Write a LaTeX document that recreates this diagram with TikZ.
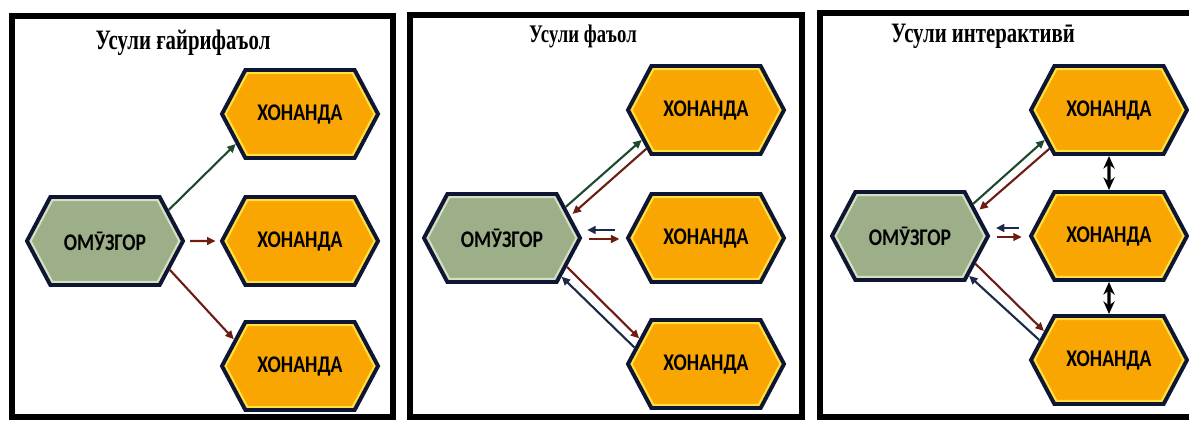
\documentclass[tikz,border=0pt]{standalone}
\usepackage{fontspec}
\usepackage{tikz}
\usetikzlibrary{shapes.symbols,arrows.meta}

\newfontfamily\titlefont[FakeStretch=0.74]{Liberation Serif}
\newfontfamily\hexfont[FakeStretch=0.82]{Carlito}

\definecolor{omfill}{HTML}{9DAF89}
\definecolor{omedge}{HTML}{D5DFC2}
\definecolor{hofill}{HTML}{F9A602}
\definecolor{hoedge}{HTML}{FFE040}
\definecolor{hexline}{HTML}{0F1634}
\definecolor{argreen}{HTML}{1D4A2C}
\definecolor{arbrown}{HTML}{6E1C12}
\definecolor{arnavy}{HTML}{1C2A48}

\tikzset{
	panel/.style={draw=black, line width=4pt},
	title/.style={font=\titlefont\bfseries\fontsize{20}{22}\selectfont},
	hexshape/.style={shape=signal, signal to=east and west, signal pointer angle=124,
		minimum width=3.9cm, minimum height=2.2cm, inner sep=0pt},
	hexa/.style={hexshape, draw=hexline, line width=2.8pt,
		font=\hexfont\bfseries\fontsize{17}{19}\selectfont},
	glow/.style={path picture={\node[hexshape, draw=#1, line width=6pt] at (path picture bounding box.center) {};}},
	omuzgor/.style={hexa, fill=omfill, glow=omedge},
	xonanda/.style={hexa, fill=hofill, glow=hoedge},
	arr/.style={-{Triangle[length=6pt,width=5.5pt]}, line width=1.5pt},
	both/.style={{Stealth[length=9pt,width=8pt]}-{Stealth[length=9pt,width=8pt]}, line width=2.2pt, black}
}

\begin{document}
\begin{tikzpicture}[x=0.025cm, y=-0.025cm]
	
	\useasboundingbox (0,0) rectangle (1189,422);
	
	% panels
	\draw[panel] (12,16) rectangle (393,417);
	\draw[panel] (410,15) rectangle (802,417);
	\draw[panel] (820,13) rectangle (1196,417);
	
	\node[title] (t1) at (183,43) {Усули ғайрифаъол};
	\node[title, font=\titlefont\bfseries\fontsize{18}{20}\selectfont] (t2) at (583,36) {Усули фаъол};
	\node[title] (t3) at (983,36) {Усули интерактивӣ};
	
	% passive
	\node[omuzgor] (om1) at (105,241) {ОМӮЗГОР};
	\node[xonanda] (h11) at (300,114) {ХОНАНДА};
	\node[xonanda] (h12) at (300,241) {ХОНАНДА};
	\node[xonanda] (h13) at (300,366) {ХОНАНДА};
	
	\path[arr, argreen] (om1.26) edge (h11.205);
	\path[arr, arbrown, shorten <=3.5pt, shorten >=3pt] (om1) edge (h12);
	\path[arr, arbrown] (om1.-24) edge (h13.158);
	
	% active
	\node[omuzgor] (om2) at (502,238) {ОМӮЗГОР};
	\node[xonanda] (h21) at (706,110) {ХОНАНДА};
	\node[xonanda] (h22) at (706,238) {ХОНАНДА};
	\node[xonanda] (h23) at (706,364) {ХОНАНДА};
	
	\path[arr, argreen] (om2.26) edge (h21.205);
	\path[arr, arbrown, shorten >=2pt] (h21.213) edge (om2.18);
	\path[arr, arnavy, shorten <=7.5pt, shorten >=3.5pt] ([yshift=5.7pt]h22.west) edge ([yshift=5.7pt]om2.east);
	\path[arr, arbrown, shorten <=4.5pt, shorten >=4.5pt] ([yshift=-0.7pt]om2.east) edge ([yshift=-0.7pt]h22.west);
	\path[arr, arbrown] (om2.-24) edge (h23.159);
	\path[arr, arnavy] (h23.167) edge (om2.-33);
	
	% interactive
	\node[omuzgor] (om3) at (910,236) {ОМӮЗГОР};
	\node[xonanda] (h31) at (1109,110) {ХОНАНДА};
	\node[xonanda] (h32) at (1109,236) {ХОНАНДА};
	\node[xonanda] (h33) at (1109,360) {ХОНАНДА};
	
	\path[arr, argreen] (om3.27) edge (h31.205);
	\path[arr, arbrown, shorten >=2pt] (h31.213) edge (om3.20);
	\path[arr, arnavy, shorten <=7pt, shorten >=4pt] ([yshift=5.7pt]h32.west) edge ([yshift=5.7pt]om3.east);
	\path[arr, arbrown, shorten <=5pt, shorten >=5pt] ([yshift=-0.7pt]om3.east) edge ([yshift=-0.7pt]h32.west);
	\path[arr, arbrown] (om3.-23) edge (h33.156);
	\path[arr, arnavy] (h33.164) edge (om3.-34);
	
	\path[both] (h31) edge (h32);
	\path[both] (h32) edge (h33);
	
\end{tikzpicture}
\end{document}
